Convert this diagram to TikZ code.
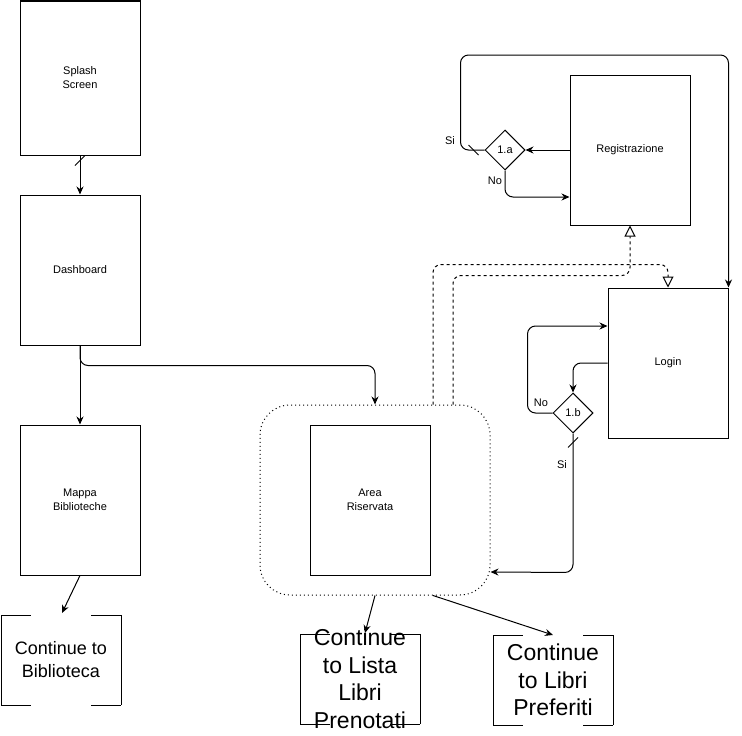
\documentclass[tikz,border=0pt]{standalone}
\usepackage{fontspec}
\setmainfont{Liberation Sans}
\usetikzlibrary{arrows.meta,shapes.geometric}
\tikzset{>={Stealth[length=8pt,width=7pt]}}
\tikzset{%
    screen/.style={draw, minimum width=120pt, minimum height=150pt, align=center,
        font=\fontsize{11}{14}\selectfont},
    choice/.style={draw, diamond, minimum width=40pt, minimum height=40pt, inner sep=0pt,
        font=\fontsize{11}{13}\selectfont},
    lab/.style={inner sep=0pt, font=\fontsize{11}{13}\selectfont},
    link/.style={->, rounded corners=8pt},
    opentip/.style={-{Triangle[open,length=11pt,width=11pt]}, dash pattern=on 3pt off 3pt, rounded corners=8pt},
    contbox/.style={align=center, inner sep=0pt,
        append after command={
            ([xshift=-60pt,yshift=45pt]\tikzlastnode.center) edge ([xshift=-60pt,yshift=-45pt]\tikzlastnode.center)
            ([xshift=60pt,yshift=45pt]\tikzlastnode.center) edge ([xshift=60pt,yshift=-45pt]\tikzlastnode.center)
            ([xshift=-60pt,yshift=45pt]\tikzlastnode.center) edge ([xshift=-30pt,yshift=45pt]\tikzlastnode.center)
            ([xshift=30pt,yshift=45pt]\tikzlastnode.center) edge ([xshift=60pt,yshift=45pt]\tikzlastnode.center)
            ([xshift=-60pt,yshift=-45pt]\tikzlastnode.center) edge ([xshift=-30pt,yshift=-45pt]\tikzlastnode.center)
            ([xshift=30pt,yshift=-45pt]\tikzlastnode.center) edge ([xshift=60pt,yshift=-45pt]\tikzlastnode.center)
        }}
}

\begin{document}
\begin{tikzpicture}[x=1pt, y=-1pt, line width=1pt]
\useasboundingbox (0,0) rectangle (742,736);

% screens
\node[screen, minimum height=154pt] (splash) at (80,78) {Splash\\Screen};
\node[screen] (dash) at (80,270) {Dashboard};
\node[screen] (mappa) at (80,500) {Mappa\\Biblioteche};
\node[draw, dash pattern=on 1pt off 3pt, rounded corners=30pt, minimum width=230pt, minimum height=190pt] (group) at (375,500) {};
\node[screen] (area) at (370,500) {Area\\Riservata};
\node[screen] (reg) at (630,150) {Registrazione};
\node[screen] (login) at (668,363) {Login};

% decisions
\node[choice] (da) at (505,150) {1.a};
\node[choice] (db) at (573,413) {1.b};

% continue boxes
\node[contbox, font=\fontsize{18}{23}\selectfont] (bib) at (61,660) {Continue to\\Biblioteca};
\node[contbox, font=\fontsize{23}{27.5}\selectfont] (lista) at (360,679) {Continue\\to Lista\\Libri\\Prenotati};
\node[contbox, font=\fontsize{23}{27.5}\selectfont] (pref) at (553,680) {Continue\\to Libri\\Preferiti};

% left column
\draw[link] (splash.south) -- (dash.north);
\draw ([xshift=-5pt,yshift=-10pt]splash.south) -- ([xshift=5pt]splash.south);
\draw[link] (dash.south) -- (mappa.north);
\draw[link] (dash.south) -- ++(0,20) -| (group.north);
\draw[link] (mappa.south) -- ([xshift=1pt,yshift=47pt]bib.center);

% area riservata
\draw[link] (group.south) -- ([xshift=5pt,yshift=46pt]lista.center);
\draw[link] ([xshift=58pt]group.south) -- ([yshift=45pt]pref.center);
\draw[opentip] ([xshift=58pt]group.north) -- ++(0,-140) -| (login.north);
\draw[opentip] ([xshift=78pt]group.north) -- ++(0,-129) -| (reg.south);

% registrazione
\draw[link] (reg.west) -- (da.east);
\draw[link] (da.south) |- ([yshift=-47pt]reg.west);
\draw[link] (da.west) -- ++(-24,0) -- ++(0,-95) -| (login.north east);
\draw ([xshift=-16pt,yshift=5pt]da.west) -- ([xshift=-6pt,yshift=-5pt]da.west);
\node[lab] (si1) at (450,141) {Si};
\node[lab] (no1) at (495,181) {No};

% login
\draw[link] (login.west) -| (db.north);
\draw[link] (db.west) -- ++(-25,0) |- ([yshift=37pt]login.west);
\draw[link] (db.south) -- ++(0,139) -- ([yshift=-72pt]group.east);
\draw ([xshift=-5pt,yshift=-14pt]db.south) -- ([xshift=5pt,yshift=-4pt]db.south);
\node[lab] (no2) at (541,403) {No};
\node[lab] (si2) at (562,465) {Si};
\end{tikzpicture}
\end{document}
